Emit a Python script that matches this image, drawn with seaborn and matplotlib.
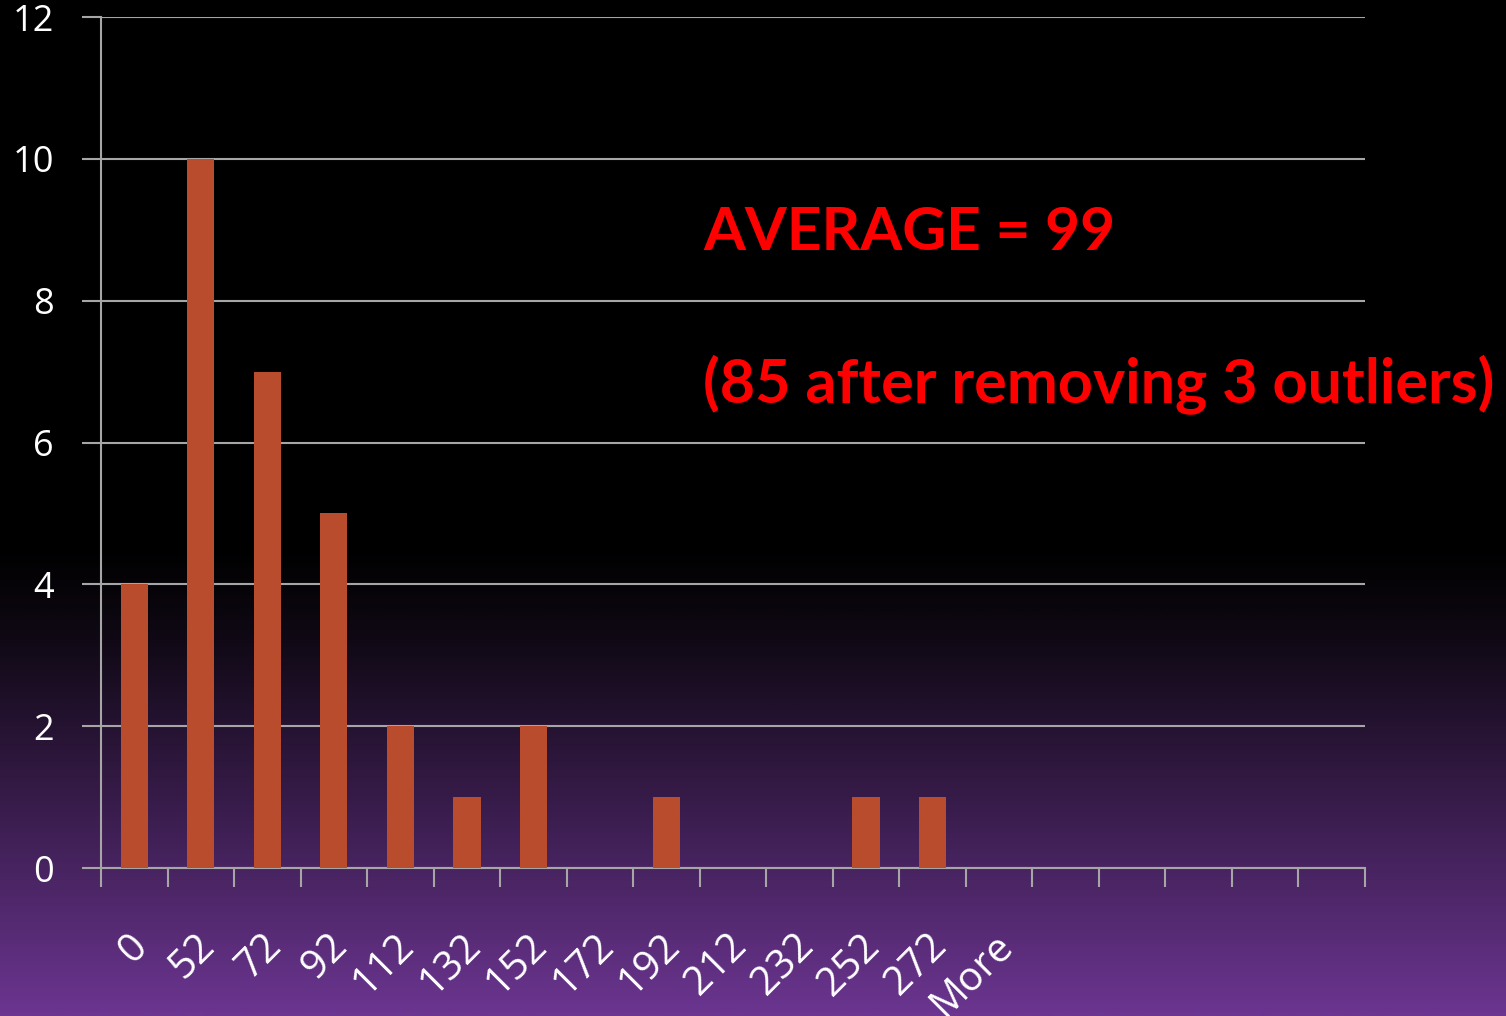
import matplotlib
matplotlib.use("Agg")
import matplotlib.pyplot as plt
import matplotlib.transforms as mtransforms
import numpy as np
import pandas as pd
import seaborn as sns
from matplotlib.colors import LinearSegmentedColormap

# histogram bins and counts
bins = ["0", "52", "72", "92", "112", "132", "152", "172", "192",
        "212", "232", "252", "272", "More"]
counts = [4, 10, 7, 5, 2, 1, 2, 0, 1, 0, 0, 1, 1, 0]
n_slots = 19  # axis has 5 empty slots after "More"
yticks = [0, 2, 4, 6, 8, 10, 12]

df = pd.DataFrame({"bin": bins, "count": counts})

sns.set_style("dark")
plt.rcParams["font.family"] = ["Open Sans", "DejaVu Sans"]

fig = plt.figure(figsize=(15.06, 10.16), dpi=100)
fig.patch.set_facecolor("black")

# background gradient black -> purple
bg = fig.add_axes([0, 0, 1, 1], zorder=-10)
cmap = LinearSegmentedColormap.from_list(
    "bgc", [(0.0, "#000000"), (0.54, "#000000"), (0.62, "#0e0812"),
            (0.76, "#301840"), (1.0, "#6b3590")])
grad = np.linspace(0, 1, 512).reshape(-1, 1)
bg.imshow(grad, aspect="auto", cmap=cmap, extent=[0, 1, 1, 0])
bg.axis("off")

ax = fig.add_axes([101 / 1506, 1 - 868 / 1016, (1365 - 101) / 1506, (868 - 17) / 1016])
ax.set_facecolor("none")

sns.barplot(data=df, x="bin", y="count", order=bins, color="#b84c2c",
            saturation=1, width=0.41, linewidth=0, edgecolor="none", ax=ax, zorder=3)

ax.set_xlim(-0.5, n_slots - 0.5)
ax.set_ylim(0, 12)
ax.set_xlabel("")
ax.set_ylabel("")

grid_c = "#a6a6a6"
ax.set_yticks(yticks)
ax.yaxis.grid(True, color=grid_c, linewidth=1.5, zorder=0)
ax.xaxis.grid(False)
ax.tick_params(axis="y", length=14, width=1.5, color=grid_c, direction="out",
               pad=20, labelsize=26, labelcolor="white", left=True)

ax.set_xticks(range(len(bins)))
ax.set_xticklabels(bins, rotation=45, ha="right", va="center",
                   rotation_mode="anchor", fontsize=29, color="white")
ax.set_xticks(np.arange(-0.5, n_slots), minor=True)
ax.tick_params(axis="x", which="major", length=0, pad=52)
ax.tick_params(axis="x", which="minor", length=14, width=1.5, color=grid_c,
               direction="out", bottom=True)
shift = mtransforms.ScaledTranslation(8 / 100, 0, fig.dpi_scale_trans)
for lab in ax.get_xticklabels():
    lab.set_transform(lab.get_transform() + shift)

for side in ["top", "right"]:
    ax.spines[side].set_visible(False)
for side in ["left", "bottom"]:
    ax.spines[side].set_visible(True)
    ax.spines[side].set_color(grid_c)
    ax.spines[side].set_linewidth(1.5)

red_font = ["Lato", "DejaVu Sans"]
fig.text(703 / 1506, 1 - 250 / 1016, "AVERAGE = 99", color="#ff0000",
         fontsize=43.5, fontweight="bold", va="baseline", ha="left", family=red_font)
fig.text(703 / 1506, 1 - 403 / 1016, "(85 after removing 3 outliers)", color="#ff0000",
         fontsize=44, fontweight="bold", va="baseline", ha="left", family=red_font)

fig.savefig("out.png", dpi=100, facecolor=fig.get_facecolor())
